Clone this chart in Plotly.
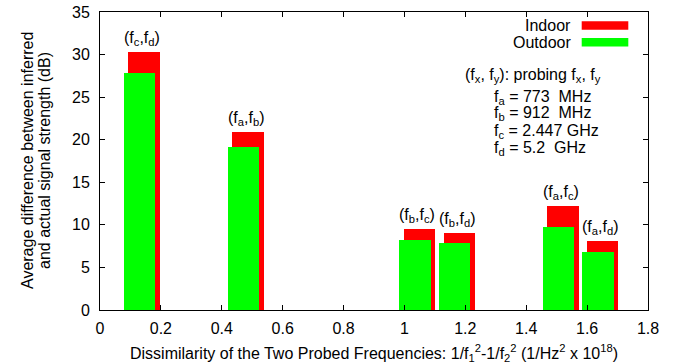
import plotly.graph_objects as go

# Data
pairs = ["(f<sub>c</sub>,f<sub>d</sub>)", "(f<sub>a</sub>,f<sub>b</sub>)", "(f<sub>b</sub>,f<sub>c</sub>)",
         "(f<sub>b</sub>,f<sub>d</sub>)", "(f<sub>a</sub>,f<sub>c</sub>)", "(f<sub>a</sub>,f<sub>d</sub>)"]
dissimilarity = [0.130, 0.471, 1.035, 1.165, 1.506, 1.636]
indoor_x = [0.145, 0.486, 1.050, 1.180, 1.521, 1.651]
indoor = [30.3, 20.9, 9.5, 9.1, 12.2, 8.1]
outdoor = [27.8, 19.2, 8.2, 7.9, 9.8, 6.8]
x_ticks = [0, 0.2, 0.4, 0.6, 0.8, 1, 1.2, 1.4, 1.6, 1.8]
y_ticks = [0, 5, 10, 15, 20, 25, 30, 35]

FONT = "Liberation Sans, Arial, sans-serif"
FS = 16
RED = "#ff0000"
GREEN = "#00ff00"

# plot area in pixels (for paper-coordinate conversions of decorations)
PL, PR, PT, PB = 100, 648, 12, 310
def px(x):
    return (x - PL) / (PR - PL)
def py(y):
    return (PB - y) / (PB - PT)

fig = go.Figure()
fig.add_trace(go.Bar(x=indoor_x, y=indoor, width=0.103, marker=dict(color=RED, line=dict(width=0)),
                     name="Indoor", showlegend=False))
fig.add_trace(go.Bar(x=dissimilarity, y=outdoor, width=0.103, marker=dict(color=GREEN, line=dict(width=0)),
                     name="Outdoor", showlegend=False))

# pair labels above bars
for xl, yl, t in zip(dissimilarity, indoor, pairs):
    fig.add_annotation(x=xl + 0.007, y=yl, text=t, showarrow=False, yanchor="bottom", yshift=2,
                       font=dict(family=FONT, size=FS, color="black"))

# manual legend (text left of sample, as in the original)
legend_items = [("Indoor", RED, 25.5), ("Outdoor", GREEN, 42.2)]
for name, col, yc in legend_items:
    fig.add_annotation(xref="paper", yref="paper", x=px(573), y=py(yc), text=name, showarrow=False,
                       xanchor="right", yanchor="middle", font=dict(family=FONT, size=FS, color="black"))
    fig.add_shape(type="rect", xref="paper", yref="paper", x0=px(581.7), x1=px(628.3),
                  y0=py(yc + 4.3), y1=py(yc - 4.3), fillcolor=col, line=dict(width=0))

# info text
fig.add_annotation(xref="paper", yref="paper", x=px(603), y=py(75), text="(f<sub>x</sub>, f<sub>y</sub>): probing f<sub>x</sub>, f<sub>y</sub>",
                   showarrow=False, xanchor="right", yanchor="middle", font=dict(family=FONT, size=FS, color="black"))
info = ["f<sub>a</sub> = 773  MHz", "f<sub>b</sub> = 912  MHz", "f<sub>c</sub> = 2.447 GHz", "f<sub>d</sub> = 5.2  GHz"]
for i, t in enumerate(info):
    fig.add_annotation(xref="paper", yref="paper", x=px(492), y=py(97 + i * 17), text=t,
                       showarrow=False, xanchor="left", yanchor="middle",
                       font=dict(family=FONT, size=FS, color="black"))

# axis titles as annotations (tight line spacing like the original)
ytitle = ["Average difference between inferred", "and actual signal strength (dB)"]
for xpix, t in zip([27, 44], ytitle):
    fig.add_annotation(xref="paper", yref="paper", x=px(xpix), y=py(161), text=t, textangle=-90,
                       showarrow=False, xanchor="center", yanchor="middle",
                       font=dict(family=FONT, size=FS, color="black"))
fig.add_annotation(xref="paper", yref="paper", x=0.5, y=py(353),
                   text="Dissimilarity of the Two Probed Frequencies: 1/f<sub>1</sub><sup>2</sup>-1/f<sub>2</sub><sup>2</sup> (1/Hz<sup>2</sup> x 10<sup>18</sup>)",
                   showarrow=False, xanchor="center", yanchor="middle",
                   font=dict(family=FONT, size=FS, color="black"))

axis_common = dict(showline=True, linecolor="black", linewidth=1, mirror="ticks", ticks="inside",
                   ticklen=5, tickcolor="black", tickwidth=1, showgrid=False, zeroline=False,
                   tickfont=dict(family=FONT, size=FS, color="black"))

fig.update_layout(
    width=688, height=364,
    margin=dict(l=PL, r=688 - PR, t=PT, b=364 - PB, autoexpand=False),
    paper_bgcolor="white", plot_bgcolor="white",
    barmode="overlay", bargap=0,
    xaxis=dict(range=[0, 1.8], tickvals=x_ticks, ticktext=[str(v) for v in x_ticks],
               ticklabelstandoff=4, **axis_common),
    yaxis=dict(range=[0, 35], tickvals=y_ticks, ticklabelstandoff=6, **axis_common),
)

fig.write_html("out.html", config={"displayModeBar": False, "staticPlot": True},
               post_script="document.body.style.margin='0px';document.body.style.overflow='hidden';")
